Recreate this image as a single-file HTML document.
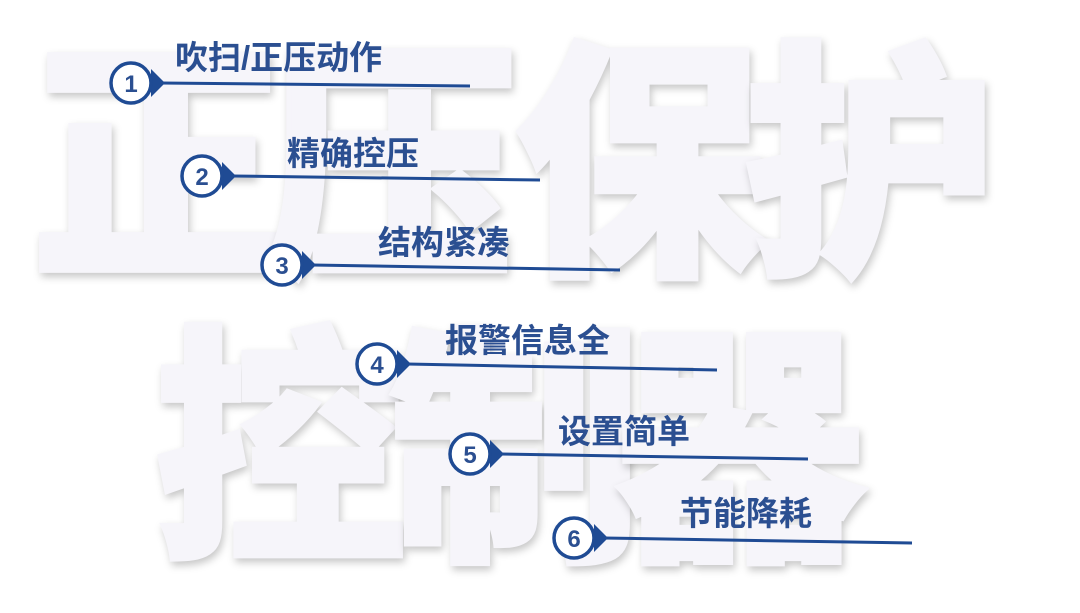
<!DOCTYPE html>
<html><head><meta charset="utf-8"><style>
html,body{margin:0;padding:0;width:1080px;height:586px;overflow:hidden;background:#fff;}
.big{position:absolute;font-family:"Noto Sans CJK SC",sans-serif;font-weight:900;font-size:252px;line-height:255px;height:255px;width:255px;text-align:center;color:#f6f5fa;-webkit-text-stroke:5px #f6f5fa;filter:drop-shadow(2px 4px 4px rgba(0,0,0,0.22));}
.lbl{position:absolute;font-family:"Liberation Sans","Noto Sans CJK SC",sans-serif;font-weight:700;font-size:33px;line-height:36px;color:#2b4f91;white-space:nowrap;}
svg{position:absolute;left:0;top:0;}
</style></head><body>
<div class="big" style="left:30px;top:18px">正</div>
<div class="big" style="left:263px;top:18px">压</div>
<div class="big" style="left:513px;top:18px">保</div>
<div class="big" style="left:743px;top:18px">护</div>
<div class="big" style="left:153px;top:303px">控</div>
<div class="big" style="left:388px;top:303px">制</div>
<div class="big" style="left:613px;top:303px">器</div>

<div class="lbl" style="left:175px;top:40px">吹扫/正压动作</div>
<div class="lbl" style="left:287px;top:136px">精确控压</div>
<div class="lbl" style="left:378px;top:225px">结构紧凑</div>
<div class="lbl" style="left:445px;top:323px">报警信息全</div>
<div class="lbl" style="left:558px;top:414px">设置简单</div>
<div class="lbl" style="left:680px;top:496px">节能降耗</div>

<svg width="1080" height="586" viewBox="0 0 1080 586">
<g stroke="#1f4b94" fill="#fff" font-family="Liberation Sans, sans-serif" font-weight="700" font-size="24">
<g>
<line x1="160" y1="83" x2="470" y2="86" stroke-width="3"/>
<path d="M151 69 L165 83 L151 97 Z" fill="#1f4b94" stroke="none"/>
<circle cx="131" cy="83" r="20" stroke-width="3.5"/>
<text x="131" y="92" text-anchor="middle" fill="#2b4f91" stroke="none">1</text>
</g>
<g>
<line x1="232" y1="176" x2="540" y2="180" stroke-width="3"/>
<path d="M222 162 L236 176 L222 190 Z" fill="#1f4b94" stroke="none"/>
<circle cx="202" cy="176" r="20" stroke-width="3.5"/>
<text x="202" y="185" text-anchor="middle" fill="#2b4f91" stroke="none">2</text>
</g>
<g>
<line x1="312" y1="265" x2="620" y2="270" stroke-width="3"/>
<path d="M302 251 L316 265 L302 279 Z" fill="#1f4b94" stroke="none"/>
<circle cx="282" cy="265" r="20" stroke-width="3.5"/>
<text x="282" y="274" text-anchor="middle" fill="#2b4f91" stroke="none">3</text>
</g>
<g>
<line x1="407" y1="364" x2="717" y2="370" stroke-width="3"/>
<path d="M397 350 L411 364 L397 378 Z" fill="#1f4b94" stroke="none"/>
<circle cx="377" cy="364" r="20" stroke-width="3.5"/>
<text x="377" y="373" text-anchor="middle" fill="#2b4f91" stroke="none">4</text>
</g>
<g>
<line x1="500" y1="454" x2="808" y2="459" stroke-width="3"/>
<path d="M490 440 L504 454 L490 468 Z" fill="#1f4b94" stroke="none"/>
<circle cx="470" cy="454" r="20" stroke-width="3.5"/>
<text x="470" y="463" text-anchor="middle" fill="#2b4f91" stroke="none">5</text>
</g>
<g>
<line x1="604" y1="538" x2="912" y2="543" stroke-width="3"/>
<path d="M594 524 L608 538 L594 552 Z" fill="#1f4b94" stroke="none"/>
<circle cx="574" cy="538" r="20" stroke-width="3.5"/>
<text x="574" y="547" text-anchor="middle" fill="#2b4f91" stroke="none">6</text>
</g>
</g>
</svg>
</body></html>
